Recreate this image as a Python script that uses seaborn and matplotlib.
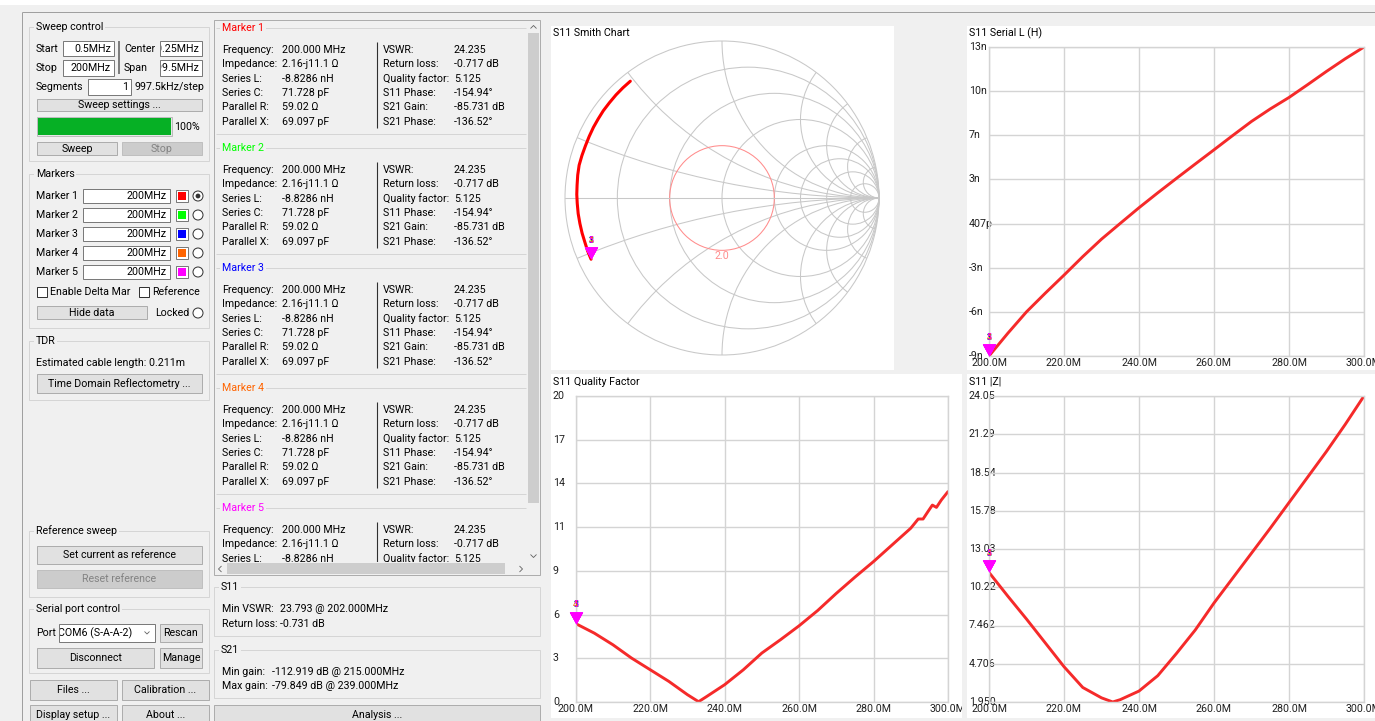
import numpy as np
import matplotlib
matplotlib.use("Agg")
import matplotlib.pyplot as plt
import matplotlib.transforms as mtransforms
from matplotlib.patches import Rectangle, Circle
from matplotlib.path import Path
import seaborn as sns

# ---------------- chart data ----------------
# S11 Serial L (nH) versus frequency (MHz)
serial_l_freq = [200, 205, 210, 215, 220, 225, 230, 235, 240, 245, 250,
                 255, 260, 265, 270, 275, 280, 285, 290, 295, 300]
serial_l_nh = [-8.83, -7.25, -5.75, -4.45, -3.19, -1.90, -0.68, 0.42, 1.51, 2.55, 3.56,
               4.56, 5.55, 6.55, 7.53, 8.40, 9.20, 10.10, 11.02, 11.90, 12.72]

# S11 quality factor versus frequency (MHz)
q_freq = [200, 205, 210, 215, 220, 225, 230, 233, 235, 240, 245, 250, 255, 260,
          265, 270, 275, 280, 285, 290, 292, 293.3, 294.6, 295.8, 296.9, 298.2, 300]
q_values = [5.125, 4.5, 3.74, 2.87, 2.11, 1.35, 0.48, 0.02, 0.33, 1.13, 2.1, 3.2, 4.07, 4.98,
            5.98, 7.1, 8.16, 9.18, 10.27, 11.36, 11.96, 11.96, 12.44, 12.87, 12.72, 13.2, 13.75]

# S11 |Z| (ohm) versus frequency (MHz)
z_freq = [200, 205, 210, 215, 220, 225, 230, 233, 235, 240, 245, 250, 255, 260,
          265, 270, 275, 280, 285, 290, 295, 300]
z_mag = [11.31, 9.6, 7.94, 6.22, 4.5, 3.0, 2.25, 1.95, 2.12, 2.74, 3.85, 5.46, 7.15, 9.1,
         10.9, 12.7, 14.5, 16.35, 18.2, 20.05, 22.0, 24.05]

# S11 reflection coefficient (Smith chart trace), 200 .. 300 MHz in 5 MHz steps
gamma_re = [-0.834, -0.856, -0.873, -0.891, -0.905, -0.916, -0.922, -0.925, -0.923, -0.919, -0.910,
            -0.892, -0.870, -0.846, -0.819, -0.789, -0.756, -0.717, -0.675, -0.631, -0.584]
gamma_im = [-0.390, -0.337, -0.283, -0.224, -0.163, -0.100, -0.035, 0.023, 0.082, 0.146, 0.209,
            0.271, 0.332, 0.392, 0.450, 0.503, 0.556, 0.607, 0.657, 0.702, 0.744]

# axis ranges and tick labels
freq_ticks = [200, 220, 240, 260, 280, 300]
freq_ticklabels = ["200.0M", "220.0M", "240.0M", "260.0M", "280.0M", "300.0M"]
serial_l_range = (-8.83, 12.72)
serial_l_ticklabels = ["-9n", "-6n", "-3n", "407p", "3n", "7n", "10n", "13n"]
q_range = (0, 20)
q_ticklabels = ["0", "3", "6", "9", "11", "14", "17", "20"]
z_range = (1.95, 24.05)
z_ticklabels = ["1.950", "4.706", "7.462", "10.22", "13.03", "15.78", "18.54", "21.29", "24.05"]

# Smith chart grid (normalised resistance / reactance)
smith_r = [0.2, 0.5, 1, 2, 3, 5, 10]
smith_x = [0.2, 0.5, 1, 2, 3, 5, 10]
vswr_circle = 2.0

# markers
marker_names = ["Marker 1", "Marker 2", "Marker 3", "Marker 4", "Marker 5"]
marker_colors = ["#ff0000", "#00ff00", "#0000ff", "#ff6400", "#ff00ff"]
marker_freq = [200, 200, 200, 200, 200]

# marker readout texts
left_labels = ["Frequency:", "Impedance:", "Series L:", "Series C:", "Parallel R:", "Parallel X:"]
left_values = ["200.000 MHz", "2.16-j11.1 \u03a9", "-8.8286 nH", "71.728 pF", "59.02 \u03a9", "69.097 pF"]
right_labels = ["VSWR:", "Return loss:", "Quality factor:", "S11 Phase:", "S21 Gain:", "S21 Phase:"]
right_values = ["24.235", "-0.717 dB", "5.125", "-154.94\u00b0", "-85.731 dB", "-136.52\u00b0"]

# ---------------- figure ----------------
sns.set_theme(style="white")
plt.rcParams["font.family"] = ["Roboto", "DejaVu Sans"]

W, H = 1375, 721
FS = 7.7
fig = plt.figure(figsize=(W / 100, H / 100), dpi=100, facecolor="#f0f0f0")
ui = fig.add_axes([0, 0, 1, 1])
ui.set_xlim(0, W)
ui.set_ylim(H, 0)
ui.axis("off")


def clip_rect(c):
    return Rectangle((c[0], c[1]), c[2] - c[0], c[3] - c[1], transform=ui.transData)


def box(x0, y0, x1, y1, fc="none", ec="none", lw=0.72, z=1):
    ui.add_patch(Rectangle((x0, y0), x1 - x0, y1 - y0, fc=fc, ec=ec, lw=lw, zorder=z))


def txt(x, y, s, ha="left", va="center", color="black", size=FS, clip=None, z=3, **kw):
    t = ui.text(x, y, s, ha=ha, va=va, color=color, fontsize=size, zorder=z, **kw)
    if clip is not None:
        t.set_clip_on(True)
        t.set_clip_path(clip_rect(clip))
    return t


def line(xs, ys, color="#a0a0a0", lw=0.72, z=2, clip=None):
    ln, = ui.plot(xs, ys, color=color, lw=lw, zorder=z, solid_capstyle="butt")
    if clip is not None:
        ln.set_clip_on(True)
        ln.set_clip_path(clip_rect(clip))
    return ln


def button(x0, y0, x1, y1, label, disabled=False):
    box(x0, y0, x1, y1, fc="#cccccc" if disabled else "#e1e1e1",
        ec="#bfbfbf" if disabled else "#adadad")
    txt((x0 + x1) / 2, (y0 + y1) / 2, label, ha="center",
        color="#838383" if disabled else "black", clip=(x0, y0, x1, y1))


def textbox(x0, y0, x1, y1, value, ha="right"):
    box(x0, y0, x1, y1, fc="white", ec="#7a7a7a")
    xt = x1 - 3 if ha == "right" else x0 + 1
    txt(xt, (y0 + y1) / 2, value, ha=ha, clip=(x0 + 1, y0, x1 - 1, y1))


def group(x0, y0, x1, y1, title, color="black", clip=None):
    box(x0, y0, x1, y1, ec="#d5d5d5")
    txt(x0 + 7, y0, title, color=color, clip=clip,
        bbox=dict(fc="#f0f0f0", ec="none", pad=1.2))


def radio(x, y, checked=False):
    ui.add_patch(Circle((x, y), 5, fc="white", ec="#333333", lw=0.72, zorder=2))
    if checked:
        ui.add_patch(Circle((x, y), 2.4, fc="#333333", ec="none", zorder=3))


def checkbox(x, y):
    box(x, y - 5, x + 10, y + 5, fc="white", ec="#333333")


# window frame
box(0, 0, W, 5, fc="white")
line([22, W], [12, 12], color="#a0a0a0")
line([22, 22], [12, H], color="#a0a0a0")

# ---------------- left control panel ----------------
group(29, 27, 209, 161, "Sweep control")
txt(36, 49, "Start")
textbox(63, 41, 114, 56, "0.5MHz")
txt(36, 68, "Stop")
textbox(63, 60, 114, 76, "200MHz")
line([119, 119], [41, 74], color="#7a7a7a", lw=1.4)
txt(124, 49, "Center")
textbox(160, 41, 202, 56, "100.25MHz")
txt(124, 68, "Span")
textbox(160, 60, 202, 76, "199.5MHz")
txt(36, 87, "Segments")
textbox(88, 79, 131, 95, "1")
txt(135, 87, "997.5kHz/step")
button(37, 99, 202, 111, "Sweep settings ...")
box(37, 117, 172, 136, fc="#e6e6e6", ec="#bcbcbc")
box(38, 118, 171, 135, fc="#06b025")
txt(174, 127, "100%")
button(37, 142, 117, 155, "Sweep")
button(122, 142, 202, 155, "Stop", disabled=True)

group(29, 174, 209, 328, "Markers")
for i, (name, col) in enumerate(zip(marker_names, marker_colors)):
    y = 196 + 19 * i
    txt(36, y, name)
    textbox(83, y - 7, 170, y + 7, f"{marker_freq[i]}MHz")
    box(176, y - 6, 188, y + 6, fc="white", ec="#7a7a7a")
    box(178, y - 4, 186, y + 4, fc=col)
    radio(198, y, checked=(i == 0))
checkbox(37, 292)
txt(50, 292, "Enable Delta Mar")
checkbox(139, 292)
txt(152, 292, "Reference")
button(37, 306, 147, 319, "Hide data")
txt(155, 313, "Locked")
radio(198, 313)

group(29, 341, 209, 400, "TDR")
txt(36, 363, "Estimated cable length: 0.211m")
button(37, 374, 202, 393, "Time Domain Reflectometry ...")

group(29, 531, 209, 597, "Reference sweep")
button(37, 546, 202, 564, "Set current as reference")
button(37, 570, 202, 588, "Reset reference", disabled=True)

group(29, 609, 209, 673, "Serial port control")
txt(36, 633, "Port")
box(59, 624, 155, 642, fc="white", ec="#7a7a7a")
txt(58.5, 633, "COM6 (S-A-A-2)", clip=(60, 624, 142, 642))
line([144.5, 147, 149.5], [631.5, 634, 631.5], color="#606060", lw=0.6, z=3)
button(160, 624, 202, 642, "Rescan")
button(37, 648, 154, 668, "Disconnect")
button(160, 648, 202, 668, "Manage")
button(30, 680, 117, 700, "Files ...")
button(122, 680, 209, 700, "Calibration ...")
button(30, 705, 117, 726, "Display setup ...")
button(122, 705, 209, 726, "About ...")

# ---------------- marker readout panel ----------------
box(214, 20, 540, 575, fc="#f0f0f0", ec="#adadad")
content = (215, 21, 527, 562)
for k, (name, col) in enumerate(zip(marker_names, marker_colors)):
    top = 28 + 120 * k
    line([216, 526], [top, top], color="#d5d5d5", clip=content)
    line([216, 526], [top + 106, top + 106], color="#d5d5d5", clip=content)
    txt(222, top, name, color=col, clip=content, bbox=dict(fc="#f0f0f0", ec="none", pad=1.2))
    line([377, 377], [top + 14, top + 100], color="#303030", lw=0.8, clip=content)
    for i in range(6):
        y = top + 22 + 14.35 * i
        txt(222, y, left_labels[i], clip=content)
        txt(282, y, left_values[i], clip=content)
        txt(383, y, right_labels[i], clip=content)
        txt(454, y, right_values[i], clip=content)
# scroll bars
box(527, 21, 540, 562, fc="#f0f0f0", z=4)
box(528, 33, 539, 503, fc="#cdcdcd", z=5)
line([530.5, 533.5, 536.5], [28.5, 25.5, 28.5], color="#606060", lw=0.6, z=6)
line([530.5, 533.5, 536.5], [554.5, 557.5, 554.5], color="#606060", lw=0.6, z=6)
box(215, 562, 527, 575, fc="#f0f0f0", z=4)
box(227, 563, 505, 574, fc="#cdcdcd", z=5)
line([221.5, 218.5, 221.5], [566, 569, 572], color="#606060", lw=0.6, z=6)
line([519.5, 522.5, 519.5], [566, 569, 572], color="#606060", lw=0.6, z=6)

group(214, 587, 540, 636, "S11")
txt(222, 609, "Min VSWR:")
txt(280, 609, "23.793 @ 202.000MHz")
txt(222, 624, "Return loss:")
txt(280, 624, "-0.731 dB")
group(214, 650, 540, 698, "S21")
txt(222, 672, "Min gain:")
txt(272, 672, "-112.919 dB @ 215.000MHz")
txt(222, 686, "Max gain:")
txt(272, 686, "-79.849 dB @ 239.000MHz")
button(214, 705, 540, 726, "Analysis ...")

# ---------------- chart panels ----------------
box(551, 26, 894, 370, fc="white", z=0.5)
box(967, 26, W, 370, fc="white", z=0.5)
box(551, 374, 962, 718, fc="white", z=0.5)
box(967, 374, W, 718, fc="white", z=0.5)
txt(553, 33, "S11 Smith Chart")
txt(969, 33, "S11 Serial L (H)")
txt(553, 382, "S11 Quality Factor")
txt(969, 382, "S11 |Z|")

GRID = "#d4d4d4"
TRACE = "#f52a2a"

tip_path = Path([(0, 0), (-0.55, 1), (0.55, 1), (0, 0)],
                [Path.MOVETO, Path.LINETO, Path.LINETO, Path.CLOSEPOLY])


def px_axes(x0, y0, x1, y1):
    return fig.add_axes([x0 / W, 1 - y1 / H, (x1 - x0) / W, (y1 - y0) / H])


def draw_markers(ax, xs, ys):
    for i, col in enumerate(marker_colors):
        ax.plot([xs[i]], [ys[i]], marker=tip_path, ms=17.3, color="#ff00ff", mew=0,
                clip_on=False, zorder=6)
    for i, col in enumerate(marker_colors):
        ax.annotate(str(i + 1), (xs[i], ys[i]), xytext=(0, 13.5), textcoords="offset points",
                    ha="center", va="center", fontsize=6.3, color=col, annotation_clip=False,
                    zorder=7)


def line_chart(rect, panel, freq, values, yrange, ylabels):
    x0, y0, x1, y1 = rect
    ax = px_axes(x0, y0, x1, y1)
    ax.patch.set_visible(False)
    sns.lineplot(x=freq, y=values, ax=ax, color=TRACE, lw=2.1, estimator=None, sort=False)
    ax.set_xlim(200, 300)
    ax.set_ylim(*yrange)
    yt = np.linspace(yrange[0], yrange[1], len(ylabels))
    ax.set_xticks(freq_ticks)
    ax.set_yticks(yt)
    ax.grid(True, color=GRID, lw=1.0)
    ax.tick_params(axis="y", length=3, color=GRID, width=1, labelleft=False, direction="out")
    ax.tick_params(axis="x", length=0, labelbottom=False)
    ax.set_xlabel("")
    ax.set_ylabel("")
    for s in ax.spines.values():
        s.set_color(GRID)
        s.set_linewidth(1.0)
    ytr = mtransforms.blended_transform_factory(ui.transData, ax.transData)
    for v, lab in zip(yt, ylabels):
        ui.text(panel[0] + 2, v, lab, transform=ytr, ha="left", va="center", fontsize=FS,
                color="#202020", zorder=3)
    xtr = mtransforms.blended_transform_factory(ax.transData, ui.transData)
    for v, lab in zip(freq_ticks, freq_ticklabels):
        t = ui.text(v, y1 + 7.5, lab, transform=xtr, ha="center", va="center", fontsize=FS,
                    color="#202020", zorder=3)
        t.set_clip_on(True)
        t.set_clip_path(clip_rect(panel))
    idx = [list(freq).index(f) for f in marker_freq]
    draw_markers(ax, [freq[j] for j in idx], [values[j] for j in idx])
    return ax


line_chart((989, 47, 1364, 356), (967, 26, W, 370), serial_l_freq, serial_l_nh,
           serial_l_range, serial_l_ticklabels)
line_chart((575.7, 396, 948, 702), (551, 374, 962, 718), q_freq, q_values,
           q_range, q_ticklabels)
line_chart((989, 396, 1364, 702), (967, 374, W, 718), z_freq, z_mag,
           z_range, z_ticklabels)

# ---------------- Smith chart ----------------
ax_s = px_axes(551, 26, 894, 370)
ax_s.patch.set_visible(False)
ax_s.set_xlim(-171 / 157, 172 / 157)
ax_s.set_ylim(-172 / 157, 172 / 157)
ax_s.axis("off")
SG = "#c8c8c8"
ax_s.add_patch(Circle((0, 0), 1, fill=False, ec=SG, lw=0.75))
ax_s.plot([-1, 1], [0, 0], color=SG, lw=0.75)
for r in smith_r:
    ax_s.add_patch(Circle((r / (1 + r), 0), 1 / (1 + r), fill=False, ec=SG, lw=0.75))
unit_clip = Circle((0, 0), 1, transform=ax_s.transData)
for xv in smith_x:
    for sgn in (1, -1):
        c = Circle((1, sgn / xv), 1 / xv, fill=False, ec=SG, lw=0.75)
        ax_s.add_patch(c)
        c.set_clip_path(unit_clip)
g_swr = (vswr_circle - 1) / (vswr_circle + 1)
ax_s.add_patch(Circle((0, 0), g_swr, fill=False, ec="#ff8c8c", lw=0.75))
ax_s.annotate(f"{vswr_circle:.1f}", (0, -g_swr), xytext=(0, -0.6), textcoords="offset points",
              ha="center", va="top", fontsize=FS, color="#ff8c8c")
sns.lineplot(x=gamma_re, y=gamma_im, ax=ax_s, color="#ff0000", lw=2.2, sort=False,
             estimator=None)
ax_s.set_xlabel("")
ax_s.set_ylabel("")
sidx = [serial_l_freq.index(f) for f in marker_freq]
draw_markers(ax_s, [gamma_re[j] for j in sidx], [gamma_im[j] for j in sidx])

fig.savefig("out.png", dpi=100, facecolor=fig.get_facecolor())
